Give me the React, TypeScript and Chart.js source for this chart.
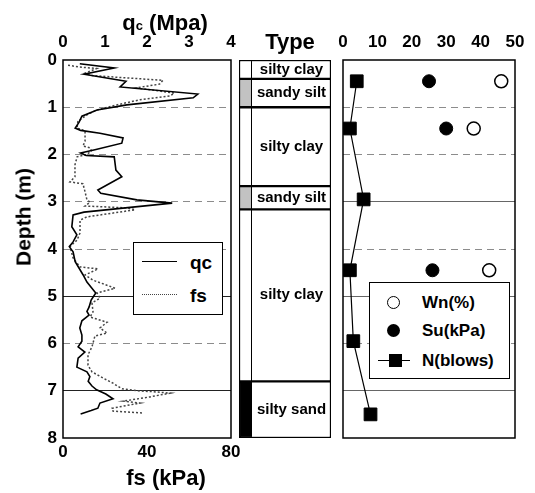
import React, { useEffect, useRef } from 'react';
import { Chart, registerables } from 'chart.js';

Chart.register(...registerables);

const W = 535;
const H = 493;
const FONT = '"Liberation Sans", Arial, Helvetica, sans-serif';

// ---- CPT profile (left panel) ----
const qcDepth = [0.08, 0.17, 0.30, 0.45, 0.57, 0.72, 0.80, 0.95, 1.06, 1.19, 1.32, 1.44, 1.49, 1.55, 1.65, 1.76, 1.90, 1.97, 2.02, 2.05, 2.33, 2.47, 2.75, 2.82, 2.96, 3.03, 3.12, 3.22, 3.28, 3.53, 3.70, 3.85, 3.95, 4.06, 4.27, 4.55, 4.70, 4.93, 5.08, 5.23, 5.32, 5.40, 5.52, 5.67, 5.82, 5.95, 6.07, 6.18, 6.31, 6.50, 6.60, 6.70, 6.80, 6.90, 6.98, 7.07, 7.17, 7.26, 7.37, 7.42, 7.49];
const qcValue = [0.40, 1.22, 0.50, 1.50, 1.36, 3.21, 3.10, 1.52, 0.81, 0.45, 0.38, 0.29, 0.42, 0.88, 1.43, 1.40, 0.76, 0.42, 0.55, 1.22, 1.26, 1.40, 0.83, 0.90, 1.76, 2.60, 1.60, 0.50, 0.24, 0.21, 0.33, 0.24, 0.15, 0.24, 0.29, 0.48, 0.57, 0.78, 0.67, 0.62, 0.57, 0.62, 0.45, 0.40, 0.45, 0.45, 0.36, 0.52, 0.36, 0.33, 0.57, 0.64, 0.60, 0.69, 0.80, 1.02, 1.19, 0.88, 0.83, 0.67, 0.42];

const fsDepth = [0.11, 0.15, 0.18, 0.28, 0.33, 0.43, 0.51, 0.59, 0.70, 0.76, 0.84, 0.95, 1.06, 1.16, 1.30, 1.44, 1.50, 1.72, 1.82, 1.86, 1.92, 2.00, 2.05, 2.22, 2.47, 2.58, 2.62, 2.79, 2.96, 3.01, 3.09, 3.13, 3.17, 3.32, 3.39, 3.66, 3.81, 3.95, 4.19, 4.38, 4.42, 4.55, 4.66, 4.83, 4.93, 5.04, 5.14, 5.33, 5.44, 5.55, 5.67, 5.78, 5.84, 5.99, 6.07, 6.24, 6.46, 6.60, 6.73, 6.84, 6.96, 7.00, 7.02, 7.05, 7.13, 7.22, 7.26, 7.37, 7.43, 7.47];
const fsValue = [2.4, 8, 16, 10.5, 14, 47.6, 46, 35, 53, 51, 36.7, 25.7, 16, 11.4, 7.1, 6.7, 10.5, 10.5, 9.5, 12.9, 13.5, 11.4, 6.7, 5.7, 5.7, 3.3, 9.5, 10.5, 11.4, 12.9, 10.5, 30.5, 34.3, 11.4, 8.1, 8.1, 6.7, 3.3, 4.8, 8.1, 16.7, 10.5, 14.3, 24.8, 16.2, 17.6, 13.8, 14.3, 12.9, 21, 17.6, 21, 15.2, 14.3, 13.8, 11.9, 11.9, 13.8, 19, 23.8, 28.1, 35.2, 42.9, 51, 41.4, 28.6, 36.7, 23.3, 23.8, 38.1];

// ---- Soil layers (middle panel) ----
const layerNames = ['silty clay', 'sandy silt', 'silty clay', 'sandy silt', 'silty clay', 'silty sand'];
const layerTop = [0, 0.4, 1.0, 2.67, 3.16, 6.8];
const layerBottom = [0.4, 1.0, 2.67, 3.16, 6.8, 8];
const layerFill = ['#ffffff', '#c2c2c2', '#ffffff', '#c2c2c2', '#ffffff', '#000000'];

// ---- Lab / SPT data (right panel) ----
const labDepth = [0.45, 1.45, 4.45];
const wnValue = [46, 38, 42.5];
const suValue = [25, 30, 26];
const nDepth = [0.45, 1.45, 2.95, 4.45, 5.95, 7.5];
const nValue = [4, 2, 6, 2, 3, 8];

const tickFont = { family: FONT, size: 17, weight: 'bold' as const };

const framePlugin = {
  id: 'frame',
  afterDraw(chart: any) {
    const { ctx, chartArea: a } = chart;
    ctx.save();
    ctx.strokeStyle = '#000';
    ctx.lineWidth = 1.5;
    ctx.strokeRect(a.left, a.top, a.right - a.left, a.bottom - a.top);
    ctx.restore();
  },
};

function depthGrid(solid: number[], solidColor: string) {
  return {
    grid: {
      drawTicks: false,
      lineWidth: 1,
      color: (c: any) => {
        const v = c.tick ? c.tick.value : -1;
        if (v <= 0 || v >= 8) return 'rgba(0,0,0,0)';
        return solid.includes(v) ? solidColor : '#8c8c8c';
      },
    },
    border: {
      display: false,
      dash: (c: any) => {
        const v = c.tick ? c.tick.value : -1;
        return solid.includes(v) ? [] : [7, 5];
      },
    },
  };
}

const STRIP = 13 / 92;

const layerLabelPlugin = {
  id: 'layerLabels',
  afterDatasetsDraw(chart: any) {
    const { ctx, chartArea: a } = chart;
    ctx.save();
    ctx.fillStyle = '#000';
    ctx.font = `bold 15px ${FONT}`;
    ctx.textAlign = 'center';
    ctx.textBaseline = 'middle';
    const cx = a.left + (a.right - a.left) * STRIP + (a.right - a.left) * (1 - STRIP) / 2;
    chart.data.datasets.forEach((ds: any, i: number) => {
      const meta = chart.getDatasetMeta(i);
      const bar = meta.data[0];
      if (!bar) return;
      const cy = (bar.y + bar.base) / 2;
      ctx.fillText(ds.label, cx, cy);
    });
    ctx.restore();
  },
};

function useChart(ref: React.RefObject<HTMLCanvasElement>, make: (c: HTMLCanvasElement) => Chart) {
  useEffect(() => {
    if (!ref.current) return;
    const ch = make(ref.current);
    return () => ch.destroy();
  }, []);
}

const canvasStyle: React.CSSProperties = { position: 'absolute', left: 0, top: 0 };
const txt: React.CSSProperties = {
  position: 'absolute',
  fontFamily: FONT,
  fontWeight: 'bold',
  lineHeight: 1,
  whiteSpace: 'nowrap',
  color: '#000',
};

export default function App() {
  const refA = useRef<HTMLCanvasElement>(null);
  const refB = useRef<HTMLCanvasElement>(null);
  const refC = useRef<HTMLCanvasElement>(null);

  useChart(refA, (c) =>
    new Chart(c, {
      type: 'scatter',
      data: {
        datasets: [
          {
            label: 'qc',
            data: qcDepth.map((d, i) => ({ x: qcValue[i], y: d })),
            xAxisID: 'x',
            yAxisID: 'y',
            showLine: true,
            borderColor: '#000',
            borderWidth: 1.6,
            pointRadius: 0,
          },
          {
            label: 'fs',
            data: fsDepth.map((d, i) => ({ x: fsValue[i], y: d })),
            xAxisID: 'x2',
            yAxisID: 'y',
            showLine: true,
            borderColor: '#444',
            borderWidth: 1.5,
            borderDash: [2, 2],
            pointRadius: 0,
          },
        ],
      },
      options: {
        responsive: false,
        animation: false,
        layout: { padding: { left: 0, right: W - 231, top: 0, bottom: 0 } },
        plugins: { legend: { display: false }, tooltip: { enabled: false } },
        scales: {
          x: {
            type: 'linear',
            position: 'top',
            min: 0,
            max: 4,
            ticks: { stepSize: 1, font: tickFont, color: '#000', padding: 7 },
            grid: { display: false, drawTicks: false },
            border: { display: false },
            afterFit: (s: any) => { s.height = 60; },
          },
          x2: {
            type: 'linear',
            axis: 'x',
            position: 'bottom',
            min: 0,
            max: 80,
            ticks: { stepSize: 40, font: tickFont, color: '#000', padding: 4 },
            grid: { display: false, drawTicks: false },
            border: { display: false },
            afterFit: (s: any) => { s.height = 55; },
          },
          y: {
            type: 'linear',
            position: 'left',
            reverse: true,
            min: 0,
            max: 8,
            ticks: { stepSize: 1, font: tickFont, color: '#000', padding: 6 },
            ...depthGrid([5, 7], '#222'),
            afterFit: (s: any) => { s.width = 63; },
          },
        },
      } as any,
      plugins: [framePlugin],
    })
  );

  useChart(refB, (c) =>
    new Chart(c, {
      type: 'bar',
      data: {
        labels: ['Type'],
        datasets: layerNames.map((name, i) => ({
          label: name,
          data: [[layerTop[i], layerBottom[i]]],
          backgroundColor: (ctx: any) => {
            const a = ctx.chart.chartArea;
            if (!a) return layerFill[i];
            const g = ctx.chart.ctx.createLinearGradient(a.left, 0, a.right, 0);
            const s1 = STRIP - 1.5 / 92;
            g.addColorStop(0, layerFill[i]);
            g.addColorStop(s1, layerFill[i]);
            g.addColorStop(s1, '#000');
            g.addColorStop(STRIP, '#000');
            g.addColorStop(STRIP, '#fff');
            g.addColorStop(1, '#fff');
            return g;
          },
          borderColor: '#000',
          borderWidth: 1.5,
          borderSkipped: false,
          grouped: false,
          barPercentage: 1,
          categoryPercentage: 1,
        })),
      },
      options: {
        responsive: false,
        animation: false,
        layout: { padding: { left: 239, right: W - 331, top: 60, bottom: H - 438 } },
        plugins: { legend: { display: false }, tooltip: { enabled: false } },
        scales: {
          x: { display: false },
          y: { display: false, min: 0, max: 8, reverse: true },
        },
      } as any,
      plugins: [layerLabelPlugin],
    })
  );

  useChart(refC, (c) =>
    new Chart(c, {
      type: 'scatter',
      data: {
        datasets: [
          {
            label: 'Wn(%)',
            data: labDepth.map((d, i) => ({ x: wnValue[i], y: d })),
            pointStyle: 'circle',
            pointRadius: 6.5,
            pointBackgroundColor: '#fff',
            pointBorderColor: '#000',
            pointBorderWidth: 1.5,
          },
          {
            label: 'Su(kPa)',
            data: labDepth.map((d, i) => ({ x: suValue[i], y: d })),
            pointStyle: 'circle',
            pointRadius: 6.5,
            pointBackgroundColor: '#000',
            pointBorderColor: '#000',
            pointBorderWidth: 1,
          },
          {
            label: 'N(blows)',
            data: nDepth.map((d, i) => ({ x: nValue[i], y: d })),
            showLine: true,
            borderColor: '#000',
            borderWidth: 1.2,
            pointStyle: 'rect',
            pointRadius: 9,
            pointBackgroundColor: '#000',
            pointBorderColor: '#000',
            pointBorderWidth: 1,
          },
        ],
      },
      options: {
        responsive: false,
        animation: false,
        layout: { padding: { left: 343, right: W - 515, top: 0, bottom: H - 438 } },
        plugins: { legend: { display: false }, tooltip: { enabled: false } },
        scales: {
          x: {
            type: 'linear',
            position: 'top',
            min: 0,
            max: 50,
            ticks: { stepSize: 10, font: tickFont, color: '#000', padding: 7 },
            grid: { display: false, drawTicks: false },
            border: { display: false },
            afterFit: (s: any) => { s.height = 60; },
          },
          y: {
            type: 'linear',
            position: 'left',
            reverse: true,
            min: 0,
            max: 8,
            ticks: { display: false, stepSize: 1 },
            ...depthGrid([3, 5, 7], '#666'),
            afterFit: (s: any) => { s.width = 0; },
          },
        },
      } as any,
      plugins: [framePlugin],
    })
  );

  return (
    <div style={{ position: 'absolute', left: 0, top: 0, width: W, height: H, background: '#fff', overflow: 'hidden' }}>
      <canvas ref={refA} width={W} height={H} style={canvasStyle} />
      <canvas ref={refB} width={W} height={H} style={canvasStyle} />
      <canvas ref={refC} width={W} height={H} style={canvasStyle} />

      {/* axis titles */}
      <div style={{ ...txt, fontSize: 22, left: 165, top: 23, transform: 'translate(-50%, -50%)' }}>
        q<span style={{ fontSize: 13 }}>c</span> (Mpa)
      </div>
      <div style={{ ...txt, fontSize: 22, left: 290, top: 42, transform: 'translate(-50%, -50%)' }}>Type</div>
      <div style={{ ...txt, fontSize: 22, left: 166, top: 478, transform: 'translate(-50%, -50%)' }}>fs (kPa)</div>
      <div style={{ ...txt, fontSize: 21, left: 23, top: 217, transform: 'translate(-50%, -50%) rotate(-90deg)' }}>Depth (m)</div>

      {/* left legend */}
      <div style={{ position: 'absolute', left: 133, top: 242, width: 90, height: 73, boxSizing: 'border-box', border: '1.5px solid #000', background: '#fff' }} />
      <div style={{ position: 'absolute', left: 142, top: 261, width: 35, height: 0, borderTop: '1.6px solid #000' }} />
      <div style={{ ...txt, fontSize: 19, left: 190, top: 262, transform: 'translateY(-50%)' }}>qc</div>
      <div style={{ position: 'absolute', left: 142, top: 294, width: 35, height: 0, borderTop: '1.6px dotted #444' }} />
      <div style={{ ...txt, fontSize: 19, left: 190, top: 295, transform: 'translateY(-50%)' }}>fs</div>

      {/* right legend */}
      <div style={{ position: 'absolute', left: 369, top: 282, width: 141, height: 97, boxSizing: 'border-box', border: '1.5px solid #000', background: '#fff' }} />
      <div style={{ position: 'absolute', left: 386.5, top: 295.5, width: 13, height: 13, boxSizing: 'border-box', borderRadius: '50%', border: '1.5px solid #000', background: '#fff' }} />
      <div style={{ ...txt, fontSize: 17, left: 422, top: 302, transform: 'translateY(-50%)' }}>Wn(%)</div>
      <div style={{ position: 'absolute', left: 386.5, top: 323.5, width: 13, height: 13, borderRadius: '50%', background: '#000' }} />
      <div style={{ ...txt, fontSize: 17, left: 422, top: 330, transform: 'translateY(-50%)' }}>Su(kPa)</div>
      <div style={{ position: 'absolute', left: 378, top: 359.5, width: 32, height: 0, borderTop: '1.2px solid #000' }} />
      <div style={{ position: 'absolute', left: 388.5, top: 353.5, width: 13, height: 13, background: '#000' }} />
      <div style={{ ...txt, fontSize: 17, left: 422, top: 360, transform: 'translateY(-50%)' }}>N(blows)</div>
    </div>
  );
}
